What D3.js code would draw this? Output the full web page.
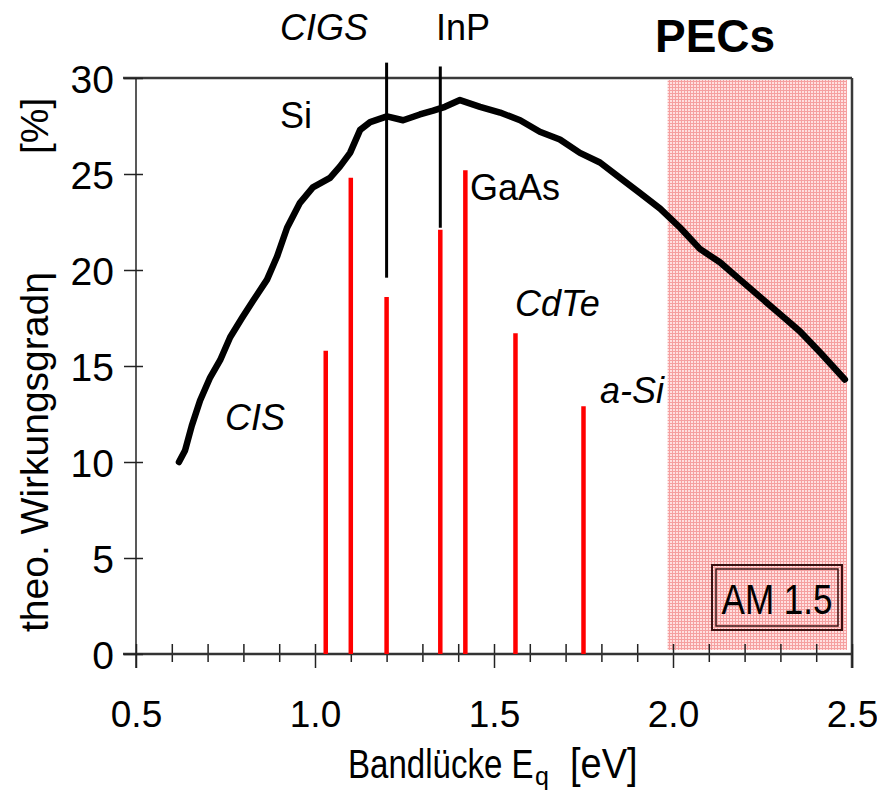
<!DOCTYPE html>
<html>
<head>
<meta charset="utf-8">
<script src="https://cdn.jsdelivr.net/npm/d3@7"></script>
<style>
  html, body { margin: 0; padding: 0; background: #fff; }
  svg { display: block; }
  text { font-family: "Liberation Sans", Arial, sans-serif; fill: #000; }
</style>
</head>
<body>
<svg id="chart" width="877" height="795"></svg>
<script>
// ---- data ----
const curveE   = [0.620,0.637,0.656,0.679,0.707,0.735,0.763,0.796,0.827,0.866,0.894,0.922,0.958,0.994,1.042,1.070,1.098,1.126,1.154,1.201,1.246,1.293,1.330,1.363,1.405,1.461,1.517,1.573,1.628,1.684,1.740,1.796,1.852,1.908,1.964,2.020,2.075,2.131,2.187,2.243,2.299,2.355,2.411,2.480];
const curveEta = [10.0,10.6,11.9,13.2,14.4,15.3,16.5,17.5,18.4,19.5,20.7,22.2,23.5,24.3,24.8,25.4,26.1,27.3,27.7,28.0,27.8,28.1,28.3,28.5,28.85,28.5,28.2,27.8,27.2,26.8,26.1,25.6,24.8,24.0,23.2,22.2,21.1,20.4,19.5,18.6,17.7,16.8,15.7,14.3];

const materials   = ["CIS","Si","CIGS","InP","GaAs","CdTe","a-Si"];
const matGap      = [1.03, 1.10, 1.20, 1.35, 1.42, 1.56, 1.75];
const matEff      = [15.8, 24.8, 18.6, 22.1, 25.2, 16.7, 12.9];

// annotation leader lines (gap, top value, bottom value)
const leaderNames = ["CIGS","InP"];
const leaderGap   = [1.20, 1.35];
const leaderTop   = [30.8, 30.6];
const leaderBot   = [19.6, 22.2];

const xMajorTicks = [0.5, 1.0, 1.5, 2.0, 2.5];
const xTickLabels = ["0.5","1.0","1.5","2.0","2.5"];
const xMinorTicks = d3.range(6, 25).map(d => d / 10).filter(d => !xMajorTicks.includes(d));
const yTicks      = [0, 5, 10, 15, 20, 25, 30];
const pecStart    = 1.985;

// ---- layout ----
const svg = d3.select("#chart");
const x = d3.scaleLinear().domain([0.5, 2.5]).range([136, 852]);
const y = d3.scaleLinear().domain([0, 30]).range([654, 78]);

// pink PEC region pattern
const defs = svg.append("defs");
const pat = defs.append("pattern").attr("id", "pink").attr("patternUnits", "userSpaceOnUse")
  .attr("width", 3).attr("height", 3);
pat.append("rect").attr("width", 3).attr("height", 3).attr("fill", "#ffe0e0");
pat.append("rect").attr("width", 3).attr("height", 1).attr("fill", "#f5a0a0");
pat.append("rect").attr("width", 1).attr("height", 3).attr("fill", "#f5a0a0");

svg.append("rect")
  .attr("x", x(pecStart)).attr("y", 80)
  .attr("width", 847 - x(pecStart)).attr("height", 570)
  .attr("fill", "url(#pink)");

// frame top & right
svg.append("line").attr("x1", 123).attr("x2", x(2.5)).attr("y1", y(30)).attr("y2", y(30))
  .attr("stroke", "#3a3a3a").attr("stroke-width", 2.5);
svg.append("line").attr("x1", x(2.5)).attr("x2", x(2.5)).attr("y1", y(30)).attr("y2", 668)
  .attr("stroke", "#3a3a3a").attr("stroke-width", 2.5);

// x axis
const xAxis = svg.append("g").attr("transform", `translate(0,${y(0)})`)
  .call(d3.axisBottom(x).tickValues(xMajorTicks).tickSize(14).tickSizeOuter(0)
    .tickFormat((d, i) => xTickLabels[i]));
xAxis.select(".domain").remove();
xAxis.selectAll(".tick line").attr("y1", -10).attr("stroke", "#222").attr("stroke-width", 1.5);
xAxis.selectAll(".tick text").attr("y", 0).attr("dy", 0)
  .attr("transform", "translate(0,73)")
  .style("font-size", "37px").style("font-family", "Liberation Sans, Arial, sans-serif").attr("fill", "#000");
const xMinor = svg.append("g").attr("transform", `translate(0,${y(0)})`)
  .call(d3.axisBottom(x).tickValues(xMinorTicks).tickSize(8).tickFormat(""));
xMinor.select(".domain").remove();
xMinor.selectAll(".tick line").attr("y1", -10).attr("stroke", "#222").attr("stroke-width", 1.5);
svg.append("line").attr("x1", 123).attr("x2", x(2.5)).attr("y1", y(0)).attr("y2", y(0))
  .attr("stroke", "#333").attr("stroke-width", 2.5);

// y axis
const yAxis = svg.append("g").attr("transform", `translate(${x(0.5)},0)`)
  .call(d3.axisLeft(y).tickValues(yTicks).tickSize(12).tickSizeOuter(0));
yAxis.select(".domain").remove();
yAxis.selectAll(".tick line").attr("x1", 7).attr("stroke", "#222").attr("stroke-width", 1.5);
yAxis.selectAll(".tick text").attr("x", -22).attr("dy", "0.36em")
  .style("font-size", "39px").style("font-family", "Liberation Sans, Arial, sans-serif").attr("fill", "#000");
svg.append("line").attr("x1", x(0.5)).attr("x2", x(0.5)).attr("y1", y(30)).attr("y2", 668)
  .attr("stroke", "#222").attr("stroke-width", 1.5);

// red bars
svg.append("g").selectAll("line").data(materials).join("line")
  .attr("x1", (d, i) => x(matGap[i])).attr("x2", (d, i) => x(matGap[i]))
  .attr("y1", y(0)).attr("y2", (d, i) => y(matEff[i]))
  .attr("stroke", "#ff0000").attr("stroke-width", 4.5);

// leader lines
svg.append("g").selectAll("line").data(leaderNames).join("line")
  .attr("x1", (d, i) => x(leaderGap[i])).attr("x2", (d, i) => x(leaderGap[i]))
  .attr("y1", (d, i) => y(leaderTop[i])).attr("y2", (d, i) => y(leaderBot[i]))
  .attr("stroke", "#000").attr("stroke-width", 3);

// efficiency curve
const line = d3.line().x((d, i) => x(curveE[i])).y((d, i) => y(curveEta[i]));
svg.append("path").datum(curveE).attr("d", line)
  .attr("fill", "none").attr("stroke", "#000").attr("stroke-width", 6.5)
  .attr("stroke-linejoin", "round").attr("stroke-linecap", "round");

// AM 1.5 box
svg.append("rect").attr("x", 712).attr("y", 565).attr("width", 130).attr("height", 65)
  .attr("fill", "none").attr("stroke", "#3a1010").attr("stroke-width", 2);
svg.append("rect").attr("x", 716).attr("y", 569).attr("width", 122).attr("height", 57)
  .attr("fill", "none").attr("stroke", "#3a1010").attr("stroke-width", 1.5);
svg.append("text").attr("transform", "translate(777,614) scale(1,1.2)").attr("text-anchor", "middle")
  .style("font-size", "35px").attr("fill", "#200").text("AM 1.5");

// labels
const lab = (t, xx, yy, opts = {}) => svg.append("text").attr("x", xx).attr("y", yy)
  .attr("text-anchor", opts.anchor || "start")
  .style("font-size", (opts.size || 36) + "px")
  .style("font-style", opts.italic ? "italic" : "normal")
  .style("font-weight", opts.bold ? "bold" : "normal").text(t);

lab("CIGS", 280, 40, {italic: true});
lab("InP", 436, 40);
lab("PECs", 655, 52, {bold: true, size: 46});
lab("Si", 280, 128);
lab("GaAs", 470, 200);
lab("CdTe", 515, 316, {italic: true});
lab("a-Si", 600, 403, {italic: true});
lab("CIS", 225, 430, {italic: true});

// x title
svg.append("text").attr("transform", "translate(348,778) scale(0.87,1.05)")
  .style("font-size", "38px").text("Bandlücke E");
svg.append("text").attr("x", 535).attr("y", 785).style("font-size", "25px").text("q");
svg.append("text").attr("transform", "translate(570,778) scale(0.95,1.05)")
  .style("font-size", "40px").text("[eV]");

// y title
const yt = svg.append("text").attr("transform", "translate(48,632) rotate(-90)")
  .style("font-size", "39px");
yt.append("tspan").attr("x", 0).text("theo. Wirkungsgradη");
yt.append("tspan").attr("x", 478).text("[%]");
</script>
</body>
</html>
